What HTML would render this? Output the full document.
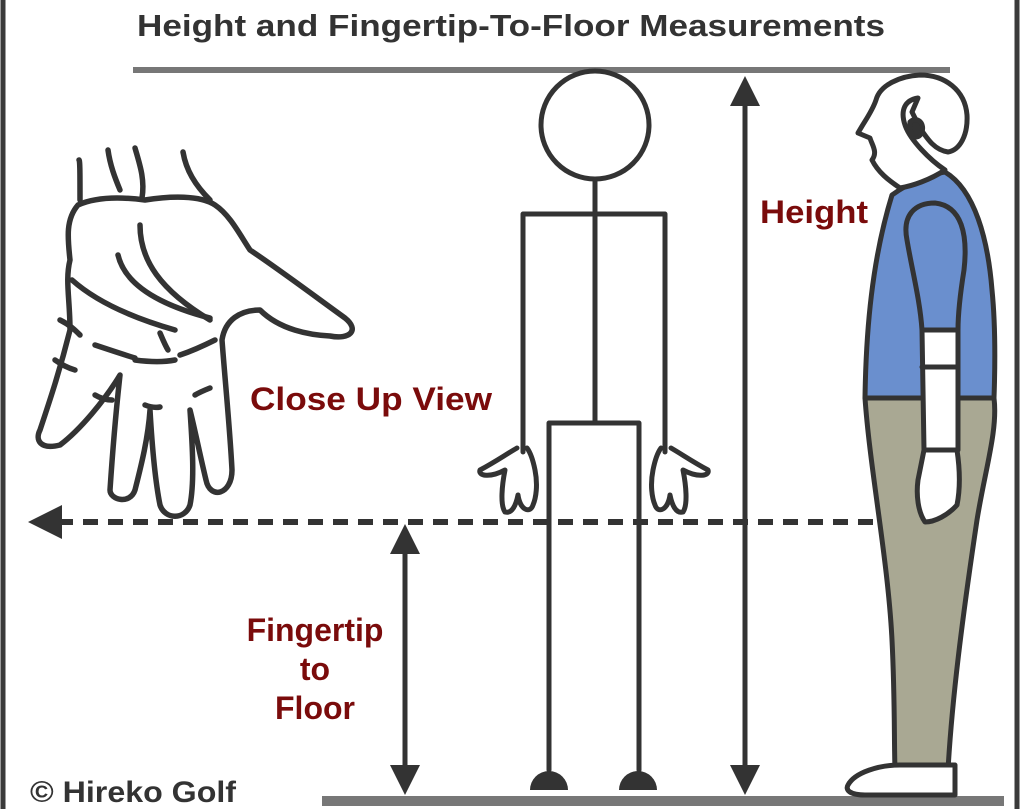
<!DOCTYPE html>
<html><head><meta charset="utf-8"><style>
html,body{margin:0;padding:0;background:#fff}
svg{display:block}
text{font-family:"Liberation Sans",Arial,sans-serif;font-weight:bold}
</style></head><body>
<svg width="1024" height="809" viewBox="0 0 1024 809" xmlns="http://www.w3.org/2000/svg">
<rect width="1024" height="809" fill="#fff"/>
<line x1="3" y1="0" x2="3" y2="809" stroke="#3a3a3a" stroke-width="5"/>
<line x1="1017" y1="0" x2="1017" y2="809" stroke="#3a3a3a" stroke-width="5"/>
<line x1="133" y1="70" x2="950" y2="70" stroke="#777" stroke-width="6"/>
<line x1="322" y1="801" x2="1004" y2="801" stroke="#777" stroke-width="10"/>
<text x="137" y="36" font-size="31" fill="#333" textLength="748" lengthAdjust="spacingAndGlyphs">Height and Fingertip-To-Floor Measurements</text>

<g stroke="#333" fill="none" stroke-width="5" stroke-linecap="round" stroke-linejoin="round">
<circle cx="595" cy="125" r="54"/>
<line x1="595" y1="180" x2="595" y2="423"/>
<polyline points="523,452 523,214 665,214 665,452"/>
<polyline points="549,770 549,423 639,423 639,770"/>
<path d="M517 448 C505 455 495 462 480 470 C478 476 490 478 505 470 C502 485 500 505 505 512 C512 514 516 505 518 495 C520 510 530 514 533 505 C536 498 538 485 535 470 C533 460 530 452 527 448"/>
<path d="M671 448 C683 455 693 462 708 470 C710 476 698 478 683 470 C686 485 688 505 683 512 C676 514 672 505 670 495 C668 510 658 514 655 505 C652 498 650 485 653 470 C655 460 658 452 661 448"/>
</g>
<path d="M530 790 A19 19 0 0 1 568 790 Z" fill="#333"/>
<path d="M619 790 A19 19 0 0 1 657 790 Z" fill="#333"/>

<line x1="745" y1="95" x2="745" y2="772" stroke="#333" stroke-width="5"/>
<polygon points="745,76 730,106 760,106" fill="#333"/>
<polygon points="745,795 730,765 760,765" fill="#333"/>
<line x1="405" y1="545" x2="405" y2="772" stroke="#333" stroke-width="5"/>
<polygon points="405,524 390,554 420,554" fill="#333"/>
<polygon points="405,795 390,765 420,765" fill="#333"/>
<line x1="58" y1="522" x2="915" y2="522" stroke="#333" stroke-width="6" stroke-dasharray="15,10"/>
<polygon points="28,522 62,505 62,539" fill="#333"/>

<text x="760" y="223" font-size="32" fill="#7a0b0b" textLength="108" lengthAdjust="spacingAndGlyphs">Height</text>
<text x="250" y="410" font-size="32" fill="#7a0b0b" textLength="242" lengthAdjust="spacingAndGlyphs">Close Up View</text>
<text x="315" y="641" font-size="32" fill="#7a0b0b" text-anchor="middle">Fingertip</text>
<text x="315" y="680" font-size="32" fill="#7a0b0b" text-anchor="middle">to</text>
<text x="315" y="719" font-size="32" fill="#7a0b0b" text-anchor="middle">Floor</text>
<text x="30" y="802" font-size="30" fill="#333" textLength="206" lengthAdjust="spacingAndGlyphs">© Hireko Golf</text>

<g stroke="#333" fill="none" stroke-width="5.5" stroke-linecap="round" stroke-linejoin="round">
<path d="M80 200 C80 175 80 160 79 160"/>
<path d="M108 150 C110 165 115 178 120 190"/>
<path d="M135 148 C140 165 145 180 142 198"/>
<path d="M183 152 C186 170 195 185 210 200"/>
<path d="M78 205 C100 195 130 198 145 200 C170 196 200 195 215 205 C230 215 240 235 250 250 C280 270 320 300 345 318 C360 330 350 340 330 336 C310 335 280 330 260 310 C240 310 225 320 222 340 C225 380 230 430 232 470 C232 495 210 500 206 480 C200 455 195 430 190 410 C192 440 195 480 190 505 C185 520 165 520 160 505 C155 480 152 445 150 410 C148 440 140 470 135 490 C130 505 110 500 110 490 C112 460 115 420 120 375 C105 400 80 430 60 445 C40 450 35 440 40 430 C50 400 60 370 70 330 C70 300 65 280 70 260 C68 240 65 220 78 205"/>
<path d="M140 225 C140 260 160 290 210 320"/>
<path d="M118 255 C125 285 160 305 210 318"/>
<path d="M72 280 C100 305 140 320 175 330"/>
<path d="M60 320 C70 325 75 330 80 335"/>
<path d="M95 345 C110 350 125 355 135 358"/>
<path d="M135 360 C150 362 165 362 175 360"/>
<path d="M180 355 C195 350 205 345 215 340"/>
<path d="M55 360 C62 365 68 368 75 370"/>
<path d="M95 395 C100 398 105 400 112 400"/>
<path d="M145 405 C150 407 155 408 160 407"/>
<path d="M195 395 C200 392 205 390 210 388"/>
<path d="M160 333 C163 340 165 345 168 350"/>
</g>

<g stroke="#333" stroke-width="5" stroke-linejoin="round" stroke-linecap="round">
<path d="M865 398 C866 330 872 260 892 195 C910 182 930 174 945 172 C975 190 988 240 992 290 C996 330 995 370 994 398 Z" fill="#6a8fce"/>
<path d="M865 398 C870 470 888 560 892 640 C895 700 894 740 895 770 L948 770 C952 700 962 620 977 520 C985 470 998 430 994 398 Z" fill="#a9a893"/>
<path d="M848 785 C855 772 880 765 900 765 L955 765 L955 795 L865 795 C850 795 845 790 848 785 Z" fill="#fff"/>
<path d="M907 240 C902 215 915 203 935 203 C962 206 968 235 964 270 C960 295 958 315 958 330 L922 330 C920 300 912 270 907 240 Z" fill="#6a8fce"/>
<path d="M922 330 L958 330 L958 450 L924 450 Z" fill="#fff"/>
<line x1="922" y1="367" x2="958" y2="367"/>
<path d="M924 450 L957 450 C960 470 960 490 957 505 C948 515 935 522 925 522 C918 512 916 495 918 480 C920 470 922 460 924 450 Z" fill="#fff"/>
<path d="M900 188 C888 180 878 172 872 160 C878 152 872 145 870 138 L858 133 C864 122 872 112 876 100 C880 85 900 76 920 75 C945 75 965 90 967 115 C968 135 960 150 948 152 C935 150 928 140 920 128 L912 112 L918 98 C905 100 900 110 905 125 C910 140 930 160 945 170 C930 180 912 186 900 188 Z" fill="#fff"/>
<path d="M910 122 C916 116 925 122 922 132 C918 142 908 136 910 122" fill="#333"/>
</g>
</svg>
</body></html>
